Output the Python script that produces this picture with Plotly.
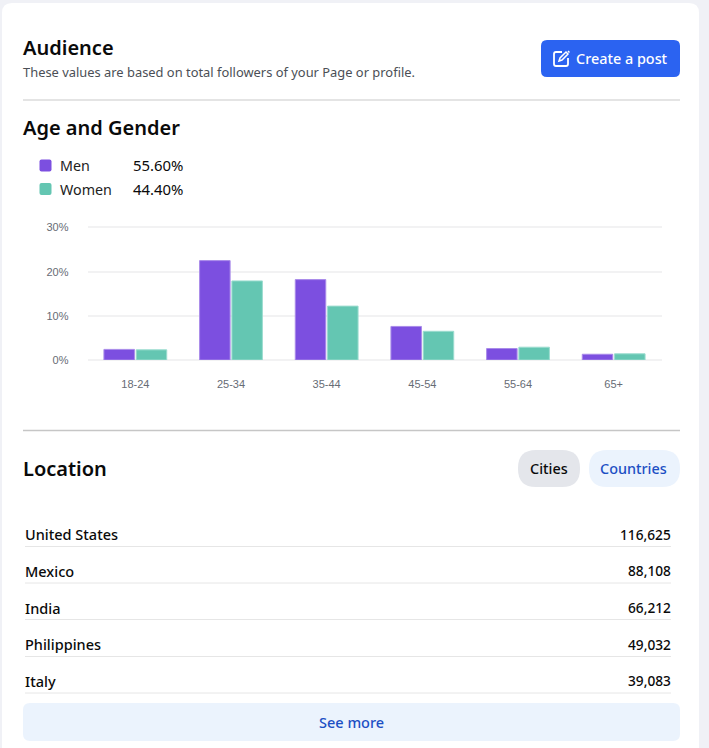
import plotly.graph_objects as go

W, H = 709, 748

age_groups = ["18-24", "25-34", "35-44", "45-54", "55-64", "65+"]
men = [2.4, 22.5, 18.2, 7.6, 2.6, 1.3]
women = [2.3, 17.9, 12.2, 6.5, 2.9, 1.4]
y_ticks = [0, 10, 20, 30]
y_tick_labels = ["0%", "10%", "20%", "30%"]
legend_names = ["Men", "Women"]
legend_shares = ["55.60%", "44.40%"]
countries = ["United States", "Mexico", "India", "Philippines", "Italy"]
followers = ["116,625", "88,108", "66,212", "49,032", "39,083"]

UI_FONT = "Noto Sans"
MEN_C, WOMEN_C = "#7c4fe0", "#64c6b2"
BLUE_TXT = "#1c4fc4"


def px(x):
    return x / W


def py(y):
    return 1 - y / H


def rrect(x0, y0, x1, y1, r, fill, line=None):
    X0, X1, Y0, Y1 = px(x0), px(x1), py(y0), py(y1)
    rx, ry = r / W, r / H
    path = (
        f"M {X0+rx} {Y0} L {X1-rx} {Y0} Q {X1} {Y0} {X1} {Y0-ry} "
        f"L {X1} {Y1+ry} Q {X1} {Y1} {X1-rx} {Y1} L {X0+rx} {Y1} "
        f"Q {X0} {Y1} {X0} {Y1+ry} L {X0} {Y0-ry} Q {X0} {Y0} {X0+rx} {Y0} Z"
    )
    return dict(type="path", xref="paper", yref="paper", path=path, fillcolor=fill,
                line=dict(width=0 if line is None else 1, color=line or fill), layer="below")


def hline(x0, x1, y, color, width):
    return dict(type="line", xref="paper", yref="paper", x0=px(x0), x1=px(x1), y0=py(y), y1=py(y),
                line=dict(color=color, width=width), layer="below")


def text(x, y, s, size, color="#0a0a0a", anchor="left", weight=400, family=UI_FONT):
    return dict(xref="paper", yref="paper", x=px(x), y=py(y), text=s, showarrow=False,
                xanchor=anchor, yanchor="middle", align=anchor,
                font=dict(family=family, size=size, color=color, weight=weight),
                borderpad=0, borderwidth=0)


shapes = [
    rrect(2, 3, 699, 790, 10, "#ffffff"),
    hline(23, 680, 100, "#e4e4e4", 2),
    hline(23, 680, 430.5, "#c6c6c6", 1.5),
    rrect(541, 40, 680, 77, 6, "#2b63f1"),
    rrect(518, 450, 580, 487, 18, "#e4e6eb"),
    rrect(589, 450, 680, 487, 18, "#ebf3fd"),
    rrect(23, 703, 680, 741, 7, "#ebf3fd"),
    # pencil-in-square icon on the button
    dict(type="path", xref="paper", yref="paper", layer="above",
         path=(f"M {px(562)} {py(52)} L {px(556)} {py(52)} Q {px(554)} {py(52)} {px(554)} {py(54)} "
               f"L {px(554)} {py(64)} Q {px(554)} {py(66)} {px(556)} {py(66)} L {px(566)} {py(66)} "
               f"Q {px(568)} {py(66)} {px(568)} {py(64)} L {px(568)} {py(58)}"),
         line=dict(color="#ffffff", width=1.8)),
    dict(type="path", xref="paper", yref="paper", layer="above",
         path=f"M {px(559)} {py(61)} L {px(560)} {py(58)} L {px(566)} {py(52)} L {px(568)} {py(54)} L {px(562)} {py(60)} Z",
         line=dict(color="#ffffff", width=1.5)),
    dict(type="path", xref="paper", yref="paper", layer="above",
         path=f"M {px(568)} {py(51)} L {px(569.5)} {py(52.5)}",
         line=dict(color="#ffffff", width=1.5)),
]

annotations = [
    text(23, 47.3, "Audience", 20, weight=600),
    text(23, 72, "These values are based on total followers of your Page or profile.", 12.9, "#4b4f56"),
    text(576, 59, "Create a post", 14.4, "#ffffff", weight=500),
    text(23, 127.3, "Age and Gender", 20, weight=600),
    text(23, 469, "Location", 20, weight=600),
    text(548.5, 469, "Cities", 14.4, "#0a0a0a", "center", 500),
    text(633.5, 469, "Countries", 14.4, BLUE_TXT, "center", 500),
    text(351, 722, "See more", 14.5, BLUE_TXT, "center", 500),
]

legend_colors = [MEN_C, WOMEN_C]
for i, (name, share) in enumerate(zip(legend_names, legend_shares)):
    yc = 165.5 + i * 23.5
    shapes.append(rrect(39.5, yc - 6, 51.5, yc + 6, 2, legend_colors[i]))
    annotations.append(text(60, yc, name, 14.3, "#222222"))
    annotations.append(text(182.5, yc, share, 14.9, "#0a0a0a", "right"))

row_text_y = [534.3, 570.8, 607.8, 644.3, 680.8]
row_line_y = [546.5, 583, 619.5, 656.5, 693]
for name, val, ty, ly in zip(countries, followers, row_text_y, row_line_y):
    annotations.append(text(25, ty, name, 14.5, "#0a0a0a", weight=500))
    annotations.append(text(671, ty, val, 13.7, "#0a0a0a", "right", 500))
    shapes.append(hline(25, 671, ly, "#e6e6e6", 1))

fig = go.Figure()
fig.add_bar(name="Men", x=age_groups, y=men, marker=dict(color=MEN_C, line=dict(color="#a98be9", width=1)))
fig.add_bar(name="Women", x=age_groups, y=women, marker=dict(color=WOMEN_C, line=dict(color="#9bdccf", width=1)))

fig.update_layout(
    width=W, height=H, autosize=False,
    margin=dict(l=0, r=0, t=0, b=0, pad=0),
    paper_bgcolor="#f0f1f6", plot_bgcolor="rgba(0,0,0,0)",
    barmode="group", bargap=0.325, bargroupgap=0.055,
    showlegend=False, shapes=shapes, annotations=annotations,
    xaxis=dict(domain=[87.5 / W, 661.5 / W], showgrid=False, zeroline=False, showline=False, ticks="",
               automargin=False,
               tickfont=dict(family="Liberation Sans", size=11, color="#676c75"), ticklabelstandoff=16,
               type="category"),
    yaxis=dict(domain=[1 - 360 / H, 1 - 225.5 / H], range=[0, 30.45], tickvals=y_ticks, ticktext=y_tick_labels,
               automargin=False,
               gridcolor="#f2f2f3", gridwidth=1.5, zeroline=True, zerolinecolor="#f2f2f3", zerolinewidth=1.5,
               showline=False, ticks="", ticklabelstandoff=18,
               tickfont=dict(family="Liberation Sans", size=11, color="#676c75")),
)

fig.write_html("out.html", config=dict(displayModeBar=False),
               post_script="document.body.style.margin='0';document.body.style.overflow='hidden';")
